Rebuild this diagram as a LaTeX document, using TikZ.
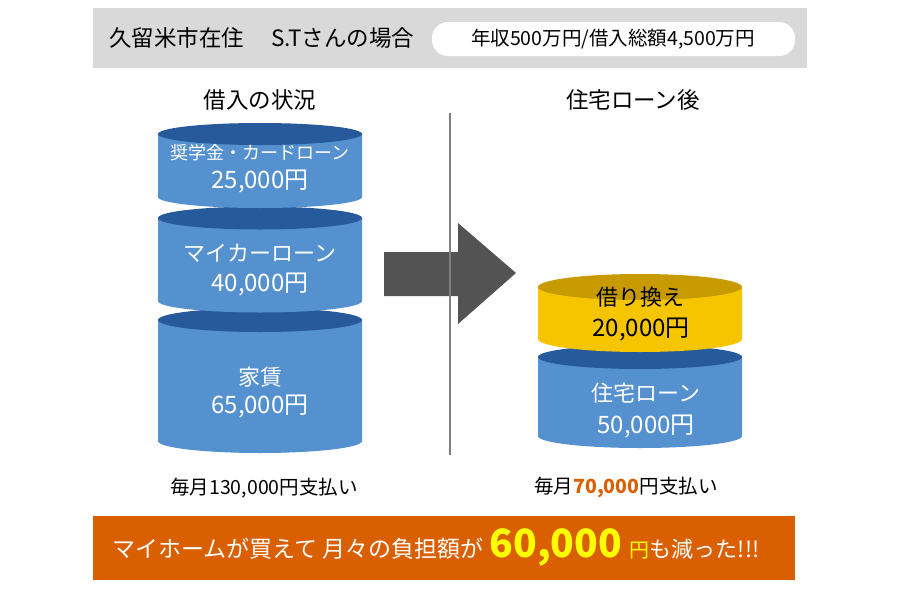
\documentclass[tikz,border=0pt]{standalone}
\usepackage{fontspec}
\setmainfont{Noto Sans CJK JP}
\definecolor{barGray}{HTML}{D9D9D9}
\definecolor{cylBody}{HTML}{5591CF}
\definecolor{cylTop}{HTML}{265A9B}
\definecolor{yelBody}{HTML}{F5C500}
\definecolor{yelTop}{HTML}{C79A00}
\definecolor{arrowGray}{HTML}{535353}
\definecolor{lineGray}{HTML}{7F7F7F}
\definecolor{orangeBar}{HTML}{D95F00}
\definecolor{brightYel}{HTML}{FFFF00}
\newcommand{\fs}[1]{\fontsize{#1}{#1}\selectfont}
% cylinder: cx, ytop, ybottom, rx, ry, body, top
\newcommand{\cyl}[7]{%
  \fill[#6] (#1-#4,#2) -- (#1-#4,#3) arc[start angle=180,end angle=360,x radius=#4pt,y radius=#5pt] -- (#1+#4,#2) -- cycle;
  \fill[#7] (#1,#2) ellipse[x radius=#4pt,y radius=#5pt];}
\tikzset{
  lbl/.style={inner sep=0pt, text=white},
  dlbl/.style={inner sep=0pt, text=black},
}
\begin{document}
\begin{tikzpicture}[x=1pt,y=-1pt]
\useasboundingbox (0,0) rectangle (900,600);
\fill[white] (0,0) rectangle (900,600);
% top bar
\fill[barGray] (93,8) rectangle (807,68);
\fill[white, rounded corners=16pt] (432,22) rectangle (795,56);
\node[dlbl, anchor=west] (title) at (109,38) {\fs{22.5}久留米市在住\hspace{1.2em}S.Tさんの場合};
\node[dlbl] (income) at (613,39) {\fs{19.5}年収500万円/借入総額4,500万円};
% headings
\node[dlbl] (hleft) at (260,100) {\fs{22.5}借入の状況};
\node[dlbl] (hright) at (633,100) {\fs{22.5}住宅ローン後};
% arrow
\fill[arrowGray] (384,252) -- (458,252) -- (458,223) -- (516,273) -- (458,324) -- (458,296) -- (384,296) -- cycle;
% divider
\draw[lineGray, line width=2.5pt] (450,113) -- (450,455);
% left cylinders
\cyl{260}{320}{441}{102}{12}{cylBody}{cylTop}
\cyl{260}{218}{301}{102}{11.5}{cylBody}{cylTop}
\cyl{260}{134}{197}{102}{11}{cylBody}{cylTop}
\node[lbl] (c1a) at (260,153) {\fs{18}奨学金・カードローン};
\node[lbl] (c1b) at (260,182) {\fs{24}25,000円};
\node[lbl] (c2a) at (260,253) {\fs{22}マイカーローン};
\node[lbl] (c2b) at (260,285) {\fs{24}40,000円};
\node[lbl] (c3a) at (260,377) {\fs{22}家賃};
\node[lbl] (c3b) at (260,407) {\fs{24}65,000円};
% right cylinders
\cyl{640}{357}{436}{102}{12}{cylBody}{cylTop}
\cyl{640}{287}{339}{102}{13}{yelBody}{yelTop}
\node[dlbl] (y1a) at (640,297) {\fs{22}借り換え};
\node[dlbl] (y1b) at (641,330) {\fs{24}20,000円};
\node[lbl] (b1a) at (646,393) {\fs{22}住宅ローン};
\node[lbl] (b1b) at (646,427) {\fs{24}50,000円};
% monthly labels
\node[dlbl] (mleft) at (264,488) {\fs{19.5}毎月130,000円支払い};
\node[dlbl] (mright) at (626,488) {\fs{19.5}毎月{\bfseries\color{orangeBar}70,000}円支払い};
% bottom bar
\fill[orangeBar] (93,516) rectangle (795,580);
\node[lbl, anchor=base west] (banner) at (112,557) {\fs{23}マイホームが買えて 月々の負担額が\hspace{6pt}{\fs{39}\bfseries\color{brightYel}60,000}\hspace{8pt}{\fs{20}\color{brightYel}円}{\fs{22}も減った!!!}};
\end{tikzpicture}
\end{document}
